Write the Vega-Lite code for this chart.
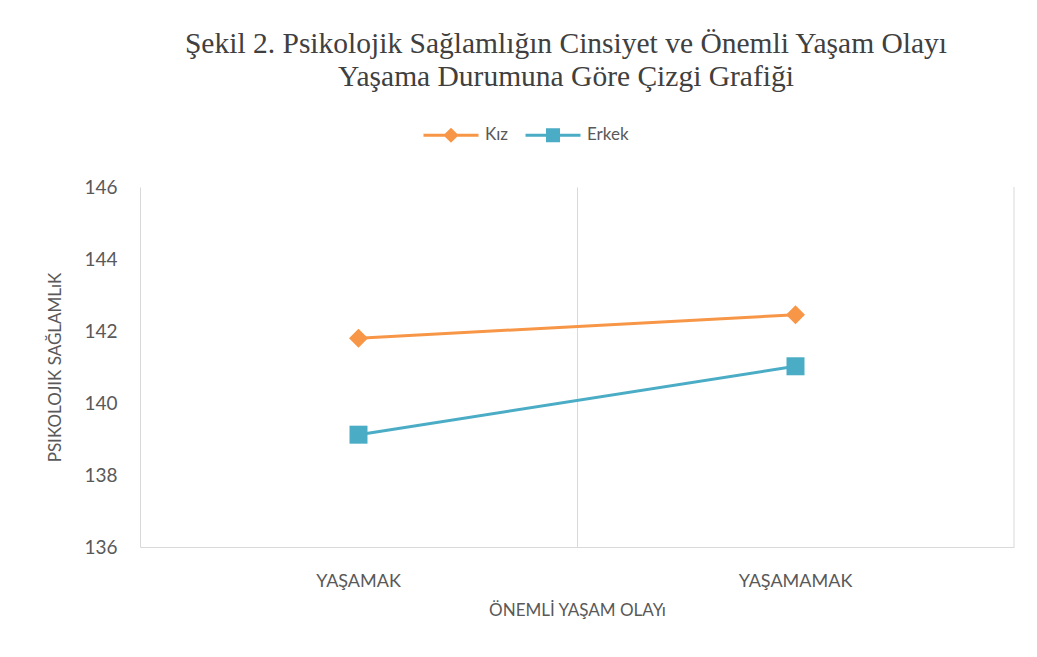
{
  "$schema": "https://vega.github.io/schema/vega-lite/v6.json",
  "width": 874,
  "height": 360,
  "autosize": {"type": "none"},
  "padding": {"left": 140, "top": 187, "right": 23, "bottom": 110},
  "background": "white",
  "title": {
    "text": ["Şekil 2.  Psikolojik Sağlamlığın Cinsiyet ve Önemli Yaşam Olayı", "Yaşama Durumuna Göre Çizgi Grafiği"],
    "font": "Liberation Serif",
    "fontSize": 29.5,
    "fontWeight": "normal",
    "color": "#404040",
    "lineHeight": 33,
    "anchor": "middle",
    "frame": "group",
    "dx": -11,
    "offset": 14
  },
  "data": {
    "values": [
      {"olay": "YAŞAMAK", "cinsiyet": "Kız", "deger": 141.8},
      {"olay": "YAŞAMAMAK", "cinsiyet": "Kız", "deger": 142.45},
      {"olay": "YAŞAMAK", "cinsiyet": "Erkek", "deger": 139.12},
      {"olay": "YAŞAMAMAK", "cinsiyet": "Erkek", "deger": 141.02}
    ]
  },
  "config": {
    "view": {"stroke": null},
    "font": "Lato"
  },
  "layer": [
    {
      "data": {"values": [{"olay": "YAŞAMAMAK"}]},
      "mark": {"type": "rule", "color": "#d9d9d9", "strokeWidth": 1},
      "encoding": {
        "x": {"field": "olay", "type": "nominal", "bandPosition": 1, "sort": ["YAŞAMAK", "YAŞAMAMAK"]}
      }
    },
    {
      "mark": {"type": "line", "strokeWidth": 3},
      "encoding": {
        "x": {
          "field": "olay", "type": "nominal", "sort": ["YAŞAMAK", "YAŞAMAMAK"],
          "scale": {"paddingInner": 0, "paddingOuter": 0},
          "axis": {
            "title": "ÖNEMLİ YAŞAM OLAYı",
            "labelAngle": 0,
            "labelAlign": "center",
            "labelFont": "Lato",
            "labelFontSize": 18,
            "labelColor": "#595959",
            "labelPadding": 34,
            "ticks": false,
            "domainColor": "#d9d9d9",
            "domainWidth": 1,
            "grid": true,
            "gridColor": "#d9d9d9",
            "gridWidth": 1,
            "bandPosition": 0,
            "titleFont": "Lato",
            "titleFontSize": 17,
            "titleFontWeight": "normal",
            "titleColor": "#595959",
            "titlePadding": 12
          }
        },
        "y": {
          "field": "deger", "type": "quantitative",
          "scale": {"domain": [136, 146], "nice": false, "zero": false},
          "axis": {
            "title": "PSIKOLOJIK SAĞLAMLıK",
            "values": [136, 138, 140, 142, 144, 146],
            "grid": false,
            "domain": false,
            "ticks": false,
            "labelFont": "Lato",
            "labelFontSize": 19,
            "labelColor": "#595959",
            "labelPadding": 23,
            "titleFont": "Lato",
            "titleFontSize": 17,
            "titleFontWeight": "normal",
            "titleColor": "#595959",
            "titlePadding": 19
          }
        },
        "color": {
          "field": "cinsiyet", "type": "nominal",
          "scale": {"domain": ["Kız", "Erkek"], "range": ["#F79646", "#4BACC6"]},
          "legend": {
            "title": null,
            "orient": "none",
            "direction": "horizontal",
            "legendX": 282,
            "legendY": -81,
            "labelFont": "Lato",
            "labelFontSize": 17,
            "labelColor": "#595959",
            "labelOffset": 5,
            "columnPadding": 10,
            "symbolSize": 3025,
            "symbolStrokeWidth": 3,
            "encode": {
              "symbols": {
                "update": {
                  "shape": [
                    {"test": "datum.value === 'Kız'", "value": "M-1,0H1M0,-0.2L0.2,0L0,0.2L-0.2,0Z"},
                    {"value": "M-1,0H1M-0.2,-0.2H0.2V0.2H-0.2Z"}
                  ],
                  "fill": [
                    {"test": "datum.value === 'Kız'", "value": "#F79646"},
                    {"value": "#4BACC6"}
                  ],
                  "stroke": [
                    {"test": "datum.value === 'Kız'", "value": "#F79646"},
                    {"value": "#4BACC6"}
                  ],
                  "strokeWidth": {"value": 3},
                  "opacity": {"value": 1}
                }
              }
            }
          }
        }
      }
    },
    {
      "transform": [{"filter": "datum.cinsiyet === 'Kız'"}],
      "mark": {"type": "point", "shape": "diamond", "filled": true, "opacity": 1, "size": 361, "color": "#F79646"},
      "encoding": {
        "x": {"field": "olay", "type": "nominal", "sort": ["YAŞAMAK", "YAŞAMAMAK"]},
        "y": {"field": "deger", "type": "quantitative"}
      }
    },
    {
      "transform": [{"filter": "datum.cinsiyet === 'Erkek'"}],
      "mark": {"type": "point", "shape": "square", "filled": true, "opacity": 1, "size": 324, "color": "#4BACC6"},
      "encoding": {
        "x": {"field": "olay", "type": "nominal", "sort": ["YAŞAMAK", "YAŞAMAMAK"]},
        "y": {"field": "deger", "type": "quantitative"}
      }
    }
  ]
}
